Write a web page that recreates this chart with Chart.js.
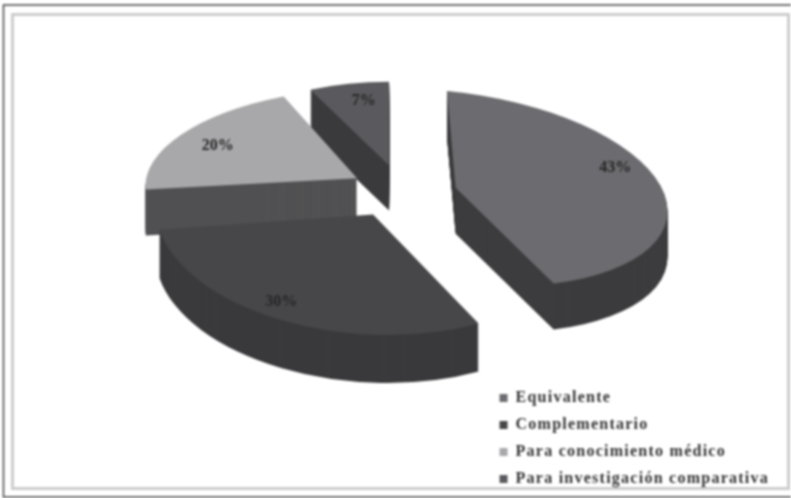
<!DOCTYPE html>
<html>
<head>
<meta charset="utf-8">
<script src="https://cdn.jsdelivr.net/npm/chart.js@4"></script>
<style>
  html, body { margin: 0; padding: 0; background: #fff; }
  #wrap { width: 791px; height: 498px; }
  canvas { filter: blur(0.8px); }
</style>
</head>
<body>
<div id="wrap"><canvas id="grafico"></canvas></div>
<script>
const categorias = ['Equivalente', 'Complementario', 'Para conocimiento médico', 'Para investigación comparativa'];
const valores = [43, 30, 20, 7];
const coresTopo = ['#6c6c70', '#47474a', '#a8a8aa', '#5a5a5e'];
const coresLado = ['#3c3c3e', '#3a3a3c', '#515153', '#3a3a3c'];

// quanto cada fatia se afasta do centro e a deformação do "3D"
const explosao = [57, 56, 49, 50];
const ajusteY = [4, 0, 0, 0];
const achatamento = [0.45, 0.56, 0.42, 0.39];
const largura = [0.985, 1.01, 0.98, 0.86];
const inclinacaoX = [0.09, 0.12, -0.2, 0];
const inclinacaoY = [0.09, 0, 0, 0];
const profundidade = [46, 48, 46, 45];
const ordemDesenho = [3, 2, 0, 1];
// ajuste fino dos rótulos em relação à posição calculada
const rotuloDx = [0, -20, -2, 6];
const rotuloDy = [-18, 5, 2, -1];
const CENTRO_X = 400, CENTRO_Y = 190;

const pizza3d = {
  id: 'pizza3d',
  beforeLayout(chart) { chart.ctx.letterSpacing = '1.25px'; },
  beforeDraw(chart) {
    const { ctx, width, height } = chart;
    ctx.letterSpacing = '1.25px';
    ctx.save();
    ctx.fillStyle = '#fff';
    ctx.fillRect(0, 0, width, height);
    // moldura clara interna
    ctx.strokeStyle = '#cdcdcd';
    ctx.lineWidth = 3;
    ctx.strokeRect(12.5, 14.5, 776, 474);
    // moldura escura externa
    ctx.strokeStyle = '#444';
    ctx.lineWidth = 1.5;
    ctx.beginPath();
    ctx.moveTo(791, 5);
    ctx.lineTo(3.5, 5);
    ctx.lineTo(3.5, 497);
    ctx.lineTo(791, 497);
    ctx.stroke();
    ctx.restore();
  },
  beforeDatasetDraw(chart) {
    const { ctx } = chart;
    const arcs = chart.getDatasetMeta(0).data;
    ordemDesenho.forEach(i => {
      const arc = arcs[i];
      const meio = (arc.startAngle + arc.endAngle) / 2;
      const s = achatamento[i];
      const a = largura[i];
      const kx = inclinacaoX[i];
      const ky = inclinacaoY[i];
      const ox = CENTRO_X + Math.cos(meio) * explosao[i];
      const oy = CENTRO_Y + Math.sin(meio) * explosao[i] * 0.5 + ajusteY[i];
      // lateral: pilha de cópias do arco, de baixo para cima
      for (let d = profundidade[i]; d >= 0; d--) {
        ctx.save();
        ctx.translate(ox, oy + d);
        ctx.transform(a, ky, kx * s, s, 0, 0);
        ctx.translate(-arc.x, -arc.y);
        const cor = arc.options.backgroundColor;
        arc.options.backgroundColor = d === 0 ? coresTopo[i] : coresLado[i];
        arc.draw(ctx);
        arc.options.backgroundColor = cor;
        ctx.restore();
      }
      // rótulo em %
      const r = arc.outerRadius * 0.78;
      const px = Math.cos(meio) * r;
      const py = Math.sin(meio) * r;
      ctx.save();
      ctx.letterSpacing = '0px';
      ctx.font = 'bold 16px "Liberation Serif"';
      ctx.fillStyle = '#262626';
      ctx.textAlign = 'center';
      ctx.textBaseline = 'middle';
      ctx.fillText(valores[i] + '%',
        ox + a * px + kx * s * py + rotuloDx[i],
        oy + ky * px + s * py + rotuloDy[i]);
      ctx.restore();
    });
    return false; // já desenhado acima
  }
};

new Chart(document.getElementById('grafico'), {
  type: 'pie',
  data: {
    labels: categorias,
    datasets: [{
      data: valores,
      backgroundColor: coresTopo,
      borderWidth: 0,
      hoverOffset: 0,
      radius: 215
    }]
  },
  options: {
    responsive: true,
    maintainAspectRatio: false,
    animation: false,
    layout: { padding: { right: 12, bottom: 0 } },
    plugins: {
      tooltip: { enabled: false },
      legend: {
        position: 'right',
        align: 'end',
        labels: {
          boxWidth: 8,
          boxHeight: 8,
          padding: 11,
          color: '#333',
          font: { family: '"Liberation Serif"', size: 16, weight: 'bold' }
        }
      }
    }
  },
  plugins: [pizza3d]
});
</script>
</body>
</html>
